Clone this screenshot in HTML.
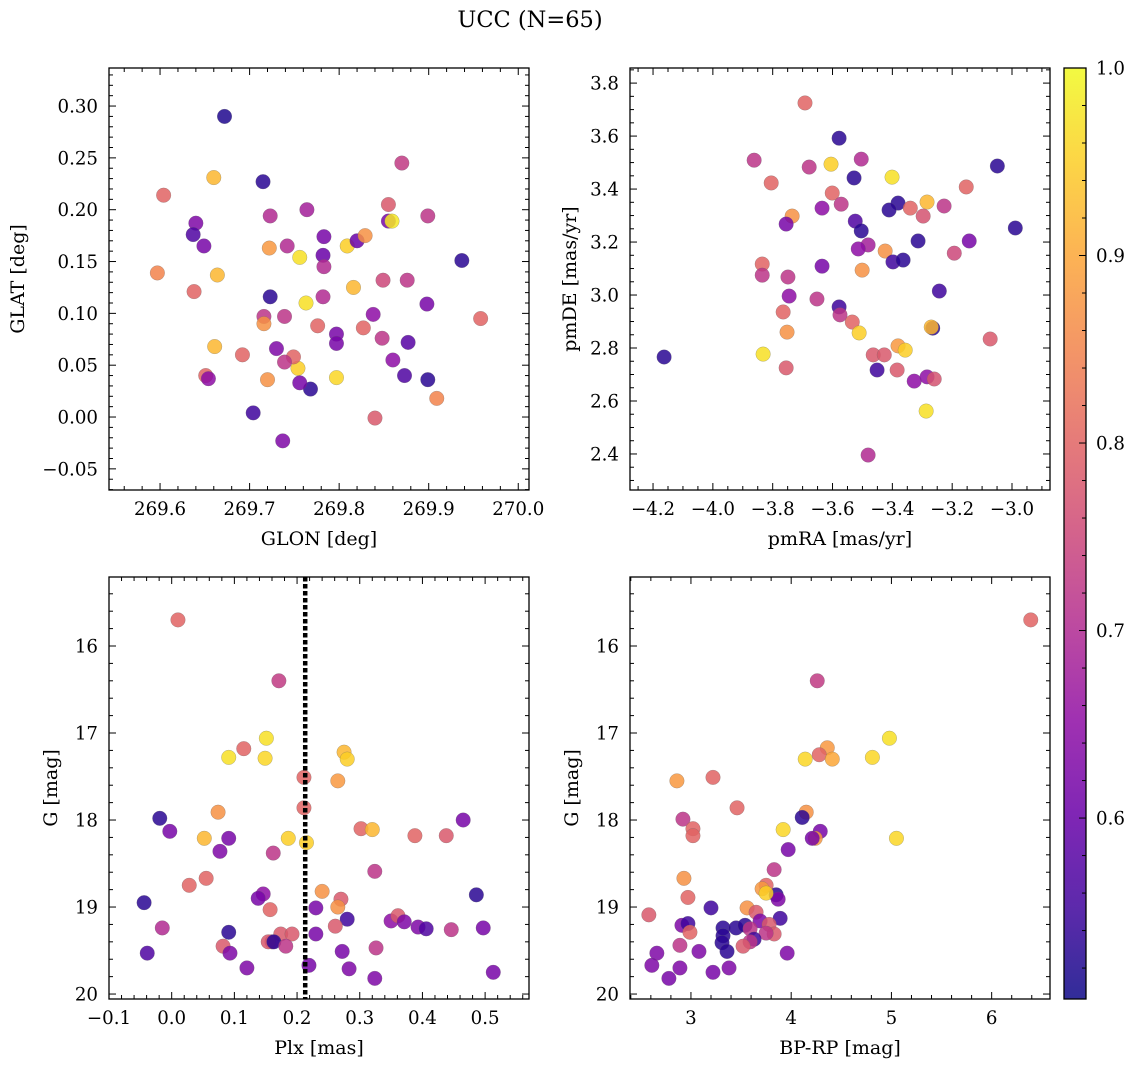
<!DOCTYPE html>
<html><head><meta charset="utf-8"><style>
body{margin:0;background:#fff}
svg{display:block;font-family:"DejaVu Serif","Liberation Serif",serif}
</style></head><body>
<svg id="fig" width="1136" height="1067" viewBox="0 0 1136 1067" xmlns="http://www.w3.org/2000/svg">
<rect width="1136" height="1067" fill="#fff"/>
<text x="530" y="27" font-size="22.5" text-anchor="middle">UCC (N=65)</text>
</svg>
<script>
// ---- Panel 1: GLON / GLAT ----
const glon = [269.672,269.604,269.660,269.715,269.640,269.637,269.649,269.597,269.664,269.638,269.723,269.722,269.742,269.756,269.764,269.783,269.782,269.783,269.782,269.723,269.763,269.716,269.739,269.716,269.776,269.797,269.797,269.827,269.838,269.816,269.809,269.820,269.829,269.855,269.855,269.859,269.870,269.899,269.849,269.876,269.937,269.958,269.898,269.877,269.848,269.860,269.873,269.899,269.909,269.840,269.797,269.768,269.756,269.754,269.749,269.730,269.739,269.720,269.692,269.661,269.651,269.654,269.704,269.737];
const glat = [0.290,0.214,0.231,0.227,0.187,0.176,0.165,0.139,0.137,0.121,0.194,0.163,0.165,0.154,0.200,0.174,0.156,0.145,0.116,0.116,0.110,0.097,0.097,0.090,0.088,0.080,0.071,0.086,0.099,0.125,0.165,0.170,0.175,0.205,0.189,0.189,0.245,0.194,0.132,0.132,0.151,0.095,0.109,0.072,0.076,0.055,0.040,0.036,0.018,-0.001,0.038,0.027,0.033,0.047,0.058,0.066,0.053,0.036,0.060,0.068,0.040,0.037,0.004,-0.023];
const prob1 = [0.52,0.80,0.92,0.53,0.63,0.57,0.62,0.85,0.92,0.80,0.70,0.88,0.70,0.97,0.68,0.62,0.60,0.70,0.70,0.53,0.97,0.72,0.72,0.87,0.80,0.62,0.62,0.80,0.65,0.92,0.95,0.60,0.87,0.78,0.62,0.98,0.73,0.72,0.75,0.72,0.53,0.80,0.62,0.58,0.72,0.65,0.57,0.53,0.85,0.78,0.96,0.53,0.62,0.95,0.80,0.63,0.72,0.87,0.80,0.92,0.80,0.65,0.55,0.63];
// ---- Panel 2: pmRA / pmDE ----
const pmra = [-3.692,-3.862,-3.805,-3.578,-3.605,-3.678,-3.504,-3.528,-3.601,-3.401,-3.381,-3.571,-3.635,-3.735,-3.755,-3.524,-3.504,-3.411,-3.340,-3.284,-3.153,-3.049,-3.227,-3.297,-3.481,-3.514,-3.424,-3.314,-3.398,-3.364,-3.193,-3.143,-2.989,-3.635,-3.835,-3.835,-3.749,-3.501,-3.243,-3.745,-3.652,-3.578,-3.575,-3.765,-3.534,-3.752,-3.511,-3.381,-3.357,-3.265,-3.270,-3.832,-3.464,-3.427,-4.163,-3.755,-3.451,-3.384,-3.327,-3.284,-3.260,-3.287,-3.073,-3.481];
const pmde = [3.725,3.509,3.423,3.592,3.494,3.483,3.513,3.442,3.385,3.445,3.347,3.343,3.328,3.298,3.268,3.279,3.242,3.321,3.328,3.351,3.408,3.487,3.336,3.298,3.189,3.174,3.166,3.204,3.125,3.132,3.158,3.204,3.253,3.109,3.117,3.075,3.068,3.094,3.015,2.996,2.985,2.955,2.925,2.936,2.898,2.860,2.857,2.808,2.792,2.875,2.879,2.777,2.774,2.774,2.766,2.725,2.717,2.717,2.675,2.691,2.683,2.562,2.834,2.396];
const prob2 = [0.80,0.72,0.80,0.53,0.95,0.72,0.70,0.53,0.80,0.97,0.53,0.72,0.65,0.87,0.62,0.57,0.53,0.53,0.80,0.92,0.80,0.53,0.72,0.77,0.68,0.65,0.87,0.53,0.55,0.53,0.75,0.62,0.53,0.62,0.80,0.72,0.72,0.87,0.55,0.65,0.72,0.55,0.72,0.80,0.80,0.87,0.95,0.88,0.95,0.53,0.92,0.97,0.78,0.78,0.53,0.78,0.55,0.78,0.65,0.65,0.77,0.97,0.78,0.70];
// ---- Panel 3: Plx / G ----
const plx = [0.010,0.171,0.115,0.151,0.091,0.149,0.211,0.275,0.280,0.265,0.074,0.211,-0.019,-0.003,0.052,0.091,0.186,0.215,0.077,0.162,0.302,0.320,0.388,0.438,0.465,0.055,0.028,0.324,0.240,-0.044,0.146,0.138,0.270,0.265,0.230,0.157,0.486,0.497,0.280,0.350,0.361,0.371,0.393,0.406,0.446,-0.015,0.091,0.174,0.192,0.230,0.261,0.160,0.154,0.163,0.182,0.082,0.093,-0.039,0.272,0.326,0.120,0.219,0.283,0.324,0.513];
const gmag3 = [15.70,16.40,17.18,17.06,17.28,17.29,17.51,17.22,17.30,17.55,17.91,17.86,17.98,18.13,18.21,18.21,18.21,18.26,18.36,18.38,18.10,18.11,18.18,18.18,18.00,18.67,18.75,18.59,18.82,18.95,18.85,18.90,18.91,19.00,19.01,19.03,18.86,19.24,19.14,19.16,19.10,19.17,19.23,19.25,19.26,19.24,19.29,19.31,19.31,19.31,19.22,19.40,19.40,19.40,19.45,19.45,19.53,19.53,19.51,19.47,19.70,19.67,19.71,19.82,19.75];
const prob3 = [0.80,0.73,0.80,0.97,0.97,0.96,0.80,0.92,0.95,0.88,0.87,0.80,0.53,0.62,0.92,0.62,0.95,0.95,0.63,0.72,0.80,0.92,0.80,0.78,0.62,0.80,0.80,0.72,0.87,0.53,0.65,0.62,0.78,0.87,0.62,0.80,0.53,0.62,0.55,0.65,0.78,0.63,0.63,0.57,0.72,0.70,0.53,0.78,0.78,0.62,0.78,0.72,0.78,0.53,0.72,0.78,0.63,0.57,0.62,0.72,0.63,0.62,0.63,0.63,0.62];
const plxLine = [0.213];
// ---- Panel 4: BP-RP / G ----
const bprp = [6.39,4.26,4.36,4.28,4.14,4.41,4.81,4.98,2.86,3.22,3.46,4.15,2.92,3.02,3.02,3.92,4.11,4.29,4.24,4.21,5.05,3.97,3.83,2.93,3.75,3.71,3.85,3.87,2.97,3.20,3.56,3.65,3.89,3.69,2.58,2.91,2.97,3.32,3.45,3.54,3.59,3.78,3.83,3.75,2.99,3.32,3.63,3.31,3.59,3.52,2.89,3.08,3.36,2.66,3.96,2.61,3.38,2.89,3.22,2.78,3.75];
const gmag4 = [15.70,16.40,17.17,17.25,17.30,17.30,17.28,17.06,17.55,17.51,17.86,17.91,17.99,18.10,18.18,18.11,17.97,18.13,18.21,18.21,18.21,18.34,18.57,18.67,18.75,18.79,18.86,18.91,18.89,19.01,19.01,19.06,19.13,19.16,19.09,19.21,19.19,19.24,19.24,19.21,19.25,19.20,19.31,19.30,19.29,19.33,19.37,19.41,19.40,19.45,19.44,19.51,19.51,19.53,19.53,19.67,19.70,19.70,19.75,19.82,18.84];
const prob4 = [0.80,0.73,0.88,0.80,0.96,0.90,0.96,0.97,0.88,0.80,0.80,0.87,0.72,0.80,0.80,0.96,0.53,0.62,0.88,0.62,0.96,0.62,0.72,0.87,0.80,0.88,0.53,0.63,0.80,0.55,0.87,0.78,0.55,0.63,0.78,0.63,0.55,0.53,0.53,0.53,0.72,0.78,0.78,0.72,0.80,0.53,0.55,0.53,0.72,0.78,0.72,0.63,0.53,0.63,0.63,0.63,0.63,0.63,0.62,0.62,0.95];
// ---- Colorbar ----
const cbTicks = [0.6,0.7,0.8,0.9,1.0];
const cbRange = [0.5035,1.0];

const NS="http://www.w3.org/2000/svg";
const svg=document.getElementById('fig');
const TF=18.2, LF=19;
function mk(tag,attrs,parent){const e=document.createElementNS(NS,tag);for(const k in attrs)e.setAttribute(k,attrs[k]);(parent||svg).appendChild(e);return e;}
const PL=[[13,8,135],[65,4,157],[106,0,168],[143,13,164],[177,42,144],[204,71,120],[225,100,98],[242,132,75],[252,166,54],[252,206,37],[240,249,33]];
function plasma(v){let t=(v-cbRange[0])/(cbRange[1]-cbRange[0]);t=Math.max(0,Math.min(1,t))*10;const i=Math.min(9,Math.floor(t)),f=t-i;const a=PL[i],b=PL[i+1];return 'rgb('+a.map((x,j)=>Math.round(x+(b[j]-x)*f)).join(',')+')';}
function lin(d0,d1,r0,r1){return v=>r0+(v-d0)/(d1-d0)*(r1-r0);}
function fmt(v,dec){let s=v.toFixed(dec);if(v<-1e-9)s='\u2212'+s.slice(1);if(Math.abs(v)<1e-9)s=(0).toFixed(dec);return s;}

function panel(o){
  const g=mk('g',{});
  
  
  const {x0,x1,y0,y1}=o.box;
  const sx=lin(o.xd[0],o.xd[1],x0,x1), sy=lin(o.yd[0],o.yd[1],y1,y0);
  const cid='clip-'+o.name;
  const cp=mk('clipPath',{id:cid},g);mk('rect',{x:x0,y:y0,width:x1-x0,height:y1-y0},cp);
  const pts=mk('g',{'clip-path':'url(#'+cid+')'},g);
  
  
  for(let i=0;i<o.x.length;i++){
    const c=mk('circle',{cx:sx(o.x[i]),cy:sy(o.y[i]),r:7.3,fill:plasma(o.c[i]),'fill-opacity':0.85,stroke:'#666','stroke-width':0.4,'stroke-opacity':0.6},pts);
    
    
  }
  if(o.vline){for(const v of o.vline){const l=mk('line',{x1:sx(v),x2:sx(v),y1:y0,y2:y1,stroke:'#000','stroke-width':4.5,'stroke-dasharray':'4.5,2.5'},g);}}
  mk('rect',{x:x0,y:y0,width:x1-x0,height:y1-y0,fill:'none',stroke:'#000','stroke-width':1.3},g);
  const eps=1e-9;
  const xs=Math.ceil((o.xd[0]-eps)/o.xmin),xe=Math.floor((o.xd[1]+eps)/o.xmin);
  for(let k=xs;k<=xe;k++){const v=k*o.xmin,X=sx(v);const maj=Math.abs(Math.round(v/o.xmaj)*o.xmaj-v)<o.xmin/10;const L=maj?7:4;
    mk('line',{x1:X,x2:X,y1:y1,y2:y1-L,stroke:'#000','stroke-width':1},g);mk('line',{x1:X,x2:X,y1:y0,y2:y0+L,stroke:'#000','stroke-width':1},g);
    if(maj){const t=mk('text',{x:X,y:y1+25,'font-size':TF,'text-anchor':'middle'},g);t.textContent=fmt(Math.round(v/o.xmaj)*o.xmaj,o.xdec);}}
  const ys=Math.ceil((Math.min(...o.yd)-eps)/o.ymin),ye=Math.floor((Math.max(...o.yd)+eps)/o.ymin);
  for(let k=ys;k<=ye;k++){const v=k*o.ymin,Y=sy(v);const maj=Math.abs(Math.round(v/o.ymaj)*o.ymaj-v)<o.ymin/10;const L=maj?7:4;
    mk('line',{x1:x0,x2:x0+L,y1:Y,y2:Y,stroke:'#000','stroke-width':1},g);mk('line',{x1:x1,x2:x1-L,y1:Y,y2:Y,stroke:'#000','stroke-width':1},g);
    if(maj){const t=mk('text',{x:x0-11,y:Y+6.5,'font-size':TF,'text-anchor':'end'},g);t.textContent=fmt(Math.round(v/o.ymaj)*o.ymaj,o.ydec);}}
  const xl=mk('text',{x:(x0+x1)/2,y:y1+55,'font-size':LF,'text-anchor':'middle'},g);xl.textContent=o.xlabel;
  const yl=mk('text',{x:0,y:0,'font-size':LF,'text-anchor':'middle',transform:'translate('+o.ylx+','+((y0+y1)/2)+') rotate(-90)'},g);yl.textContent=o.ylabel;
}
panel({name:'glon-glat-panel',box:{x0:109,x1:529,y0:68,y1:490},xd:[269.543,270.012],yd:[-0.0704,0.3367],x:glon,y:glat,c:prob1,xmaj:0.1,xmin:0.02,ymaj:0.05,ymin:0.01,xdec:1,ydec:2,xlabel:'GLON [deg]',ylabel:'GLAT [deg]',ylx:24});
panel({name:'pm-panel',box:{x0:630,x1:1050,y0:68,y1:490},xd:[-4.277,-2.873],yd:[2.264,3.857],x:pmra,y:pmde,c:prob2,xmaj:0.2,xmin:0.05,ymaj:0.2,ymin:0.05,xdec:1,ydec:1,xlabel:'pmRA [mas/yr]',ylabel:'pmDE [mas/yr]',ylx:576});
panel({name:'plx-g-panel',box:{x0:109,x1:529,y0:577,y1:999},xd:[-0.1,0.570],yd:[20.057,15.207],x:plx,y:gmag3,c:prob3,xmaj:0.1,xmin:0.02,ymaj:1,ymin:0.2,xdec:1,ydec:0,xlabel:'Plx [mas]',ylabel:'G [mag]',ylx:57,vline:plxLine});
panel({name:'cmd-panel',box:{x0:630,x1:1050,y0:577,y1:999},xd:[2.392,6.582],yd:[20.057,15.207],x:bprp,y:gmag4,c:prob4,xmaj:1,xmin:0.2,ymaj:1,ymin:0.2,xdec:0,ydec:0,xlabel:'BP-RP [mag]',ylabel:'G [mag]',ylx:578});

const cb=mk('g',{});


const cx0=1064,cx1=1086,cy0=68,cy1=999;
const grad=mk('linearGradient',{id:'cbg',x1:0,y1:1,x2:0,y2:0},cb);
for(let i=0;i<=20;i++){const v=cbRange[0]+(cbRange[1]-cbRange[0])*i/20;mk('stop',{offset:i/20,'stop-color':plasma(v)},grad);}
mk('rect',{x:cx0,y:cy0,width:cx1-cx0,height:cy1-cy0,fill:'url(#cbg)','fill-opacity':0.85},cb);
mk('rect',{x:cx0,y:cy0,width:cx1-cx0,height:cy1-cy0,fill:'none',stroke:'#000','stroke-width':1.3},cb);
const scb=lin(cbRange[0],cbRange[1],cy1,cy0);
for(let k=Math.ceil(cbRange[0]/0.02-1e-6);k<=Math.floor(cbRange[1]/0.02+1e-6);k++){const v=k*0.02,Y=scb(v);const maj=Math.abs(Math.round(v*10)/10-v)<0.002;
  mk('line',{x1:cx1,x2:cx1-(maj?7:4),y1:Y,y2:Y,stroke:'#000','stroke-width':1},cb);}
for(const v of cbTicks){const t=mk('text',{x:1096,y:scb(v)+6.5,'font-size':TF},cb);t.textContent=v.toFixed(1);}
</script>
</body></html>
